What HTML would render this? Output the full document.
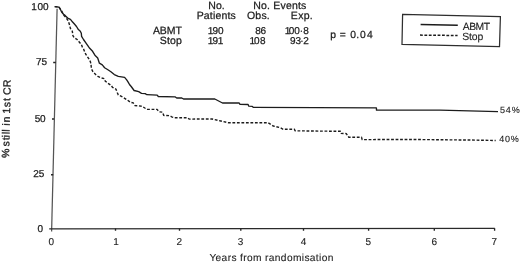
<!DOCTYPE html>
<html><head><meta charset="utf-8">
<style>
html,body{margin:0;padding:0;background:#fff;}
body{width:520px;height:262px;overflow:hidden;}
svg{display:block;}
text{text-rendering:geometricPrecision;font-family:"Liberation Sans",Arial,sans-serif;fill:#1c1c1c;stroke:#1c1c1c;stroke-width:0.25px;}
</style></head><body>
<svg width="520" height="262" viewBox="0 0 520 262">
<rect width="520" height="262" fill="#fff"/>
<g stroke="#252525" stroke-width="1.35" fill="none">
<path d="M57.1 8.8 L51.6 231.6" stroke="#555" stroke-width="1.25"/>
<path d="M49.2 228.9 L494.8 228.3" stroke="#2a2a2a" stroke-width="1.15"/>
<path d="M55.8 62.5 H53.2 M54.0 119 H52 M53.2 174.7 H51"/>
<path d="M115.5 228.6 V230.8 M179.5 228.6 V230.8 M240.8 228.5 V230.8 M303.5 228.5 V230.8 M368.6 228.4 V230.8 M434.3 228.4 V230.8 M494.6 228.2 V230.8"/>
<path d="M402.6 14.3 L500.4 16.7 L499.5 46.5 L402 44.4 Z" stroke="#2e2e2e" stroke-width="1.25"/>
</g>
<polyline points="54.7,6.6 59,7.1 60.2,9 61.5,11.8 63.5,14.2 65,15.4 67.7,18.1 70.4,19.3 71.9,21.2 74.2,23.8 76.5,26.5 78.4,29.6 80.3,31.3 81.3,33.3 81.6,36.4 83.5,39.5 86.2,43.3 88.5,46.7 89.7,48.3 92.6,51.3 94.9,55.2 97.7,58 99.4,63.2 102.3,64.9 104.6,67.7 107.5,69.5 110.9,71.8 114.3,74.6 118.3,76.3 124.6,77.3 126.7,79.9 128.3,82.4 129.5,84.5 131.2,86.5 134.1,90.5 138.7,91.6 141.5,93.3 145.2,93.6 146.9,94.7 157.2,95.1 158.3,96.5 175,96.8 176.7,98 181.8,98 183.5,99 214.8,99 222.5,103 239.2,103 240,104.4 248.1,104.5 248.8,106.2 252.3,106.4 253.5,107.4 376.4,107.8 376.5,110.1 440,110.2 498,111.6" fill="none" stroke="#1c1c1c" stroke-width="1.35" stroke-linejoin="round"/>
<polyline points="54.7,6.6 59,7.1 60.2,9 61.9,11.3 63.2,14.6 65.5,17 68.3,21 69.6,25 70.4,28.4 72.3,31.2 72.9,35.5 74,37.5 77.1,39.5 79,41.7 81.3,44.4 82.4,47.1 83.5,48.9 85.7,54.2 89.2,59.3 90.5,62 91.1,65.3 91.4,68.8 93,71.8 95.6,74.5 97.9,76.4 101.4,77.9 104.4,78.7 105.2,81 107.5,83 110.9,85.2 112.6,87.4 116,89.2 117.2,92.6 118.3,94.9 122.9,97.2 127.5,100.1 130.4,102.3 133.2,102.9 135,105.6 138.4,105.8 142.2,106.3 144.8,108 147.5,109.4 157,109.4 159.1,111.8 162.5,112.2 163.7,115.4 169.4,115.6 171.7,116.8 174.5,117.8 187.5,117.8 189.2,119.1 212.2,119 220.8,121 228.5,122.7 268,122.7 273.3,126 280.2,127.7 283.1,129.3 294.3,129.3 295.2,130.8 320,131.1 341,131.3 341.4,133.4 346.3,133.6 348.8,137.3 361.5,137.3 362.2,139.6 415,139.5 475,140.1 495.7,140.5" fill="none" stroke="#1c1c1c" stroke-width="1.4" stroke-dasharray="2.8 1.7"/>
<path d="M420.6 24.4 L457.8 25.2" stroke="#1c1c1c" stroke-width="1.5"/>
<path d="M420 35.1 L457.6 35.5" stroke="#1c1c1c" stroke-width="1.5" stroke-dasharray="2.8 1.6"/>
<text x="208.24" y="9" font-size="10.5" letter-spacing="0.09">No.</text>
<text x="196.64" y="19" font-size="10.5" letter-spacing="0.172">Patients</text>
<text x="253.24" y="9" font-size="10.5" letter-spacing="0.198">No. Events</text>
<text x="247.0" y="19" font-size="10.5" letter-spacing="0.194">Obs.</text>
<text x="290.84" y="19" font-size="10.5" letter-spacing="0.303">Exp.</text>
<text x="152.88" y="34.1" font-size="10.5" letter-spacing="-0.035">ABMT</text>
<text x="159.72" y="44.1" font-size="10.5" letter-spacing="0.173">Stop</text>
<text x="207.84 212.53 218.01" y="33.9" font-size="10">190</text>
<text x="207.84 212.53 217.84" y="44.0" font-size="10">191</text>
<text x="255.37 260.59" y="33.9" font-size="10">86</text>
<text x="249.54 254.01 259.97" y="44.0" font-size="10">108</text>
<text x="284.84 288.71 294.21 299.71 303.37" y="33.9" font-size="10">100·8</text>
<text x="289.93 295.52 300.31 303.2" y="43.5" font-size="10">93·2</text>
<text x="330.24 335.97 339.7 345.72 350.3 356.26 359.9 367.06" y="38.4" font-size="10.3">p = 0.04</text>
<text style="stroke-width:0.1px" x="462.78" y="29.7" font-size="10.4" letter-spacing="-0.543">ABMT</text>
<text style="stroke-width:0.1px" x="462.33" y="39.8" font-size="10.4" letter-spacing="-0.162">Stop</text>
<text style="stroke-width:0.12px" x="499.94" y="112.8" font-size="9" letter-spacing="0.884">54%</text>
<text style="stroke-width:0.12px" x="499.29" y="142.2" font-size="9" letter-spacing="0.707">40%</text>
<text x="31.34 37.51 43.11" y="9.6" font-size="10">100</text>
<text x="35.89 41.6" y="65.4" font-size="10">75</text>
<text x="34.7 40.01" y="121.7" font-size="10">50</text>
<text x="33.2 38.7" y="177.2" font-size="10">25</text>
<text x="37.51" y="231.8" font-size="10">0</text>
<text x="48.61" y="245.1" font-size="10" style="stroke-width:0.12px">0</text>
<text x="113.34" y="245.1" font-size="10" style="stroke-width:0.12px">1</text>
<text x="176.5" y="245.1" font-size="10" style="stroke-width:0.12px">2</text>
<text x="237.82" y="245.1" font-size="10" style="stroke-width:0.12px">3</text>
<text x="300.67" y="245.1" font-size="10" style="stroke-width:0.12px">4</text>
<text x="365.6" y="245.1" font-size="10" style="stroke-width:0.12px">5</text>
<text x="431.59" y="245.1" font-size="10" style="stroke-width:0.12px">6</text>
<text x="491.49" y="245.1" font-size="10" style="stroke-width:0.12px">7</text>
<text style="stroke-width:0.1px" x="209.38" y="260.7" font-size="10.2" letter-spacing="0.361">Years from randomisation</text>
<text transform="translate(8.95 160.0) rotate(-88.7)" x="2.03 11.37 13.61 19.84 22.6 25.69 28.39 30.72 34.2 37.5 43.34 46.39 52.71 58.94 61.86 65.07 72.74" y="0" font-size="10.5" style="stroke-width:0.3px">% still in 1st CR</text>
</svg>
</body></html>
